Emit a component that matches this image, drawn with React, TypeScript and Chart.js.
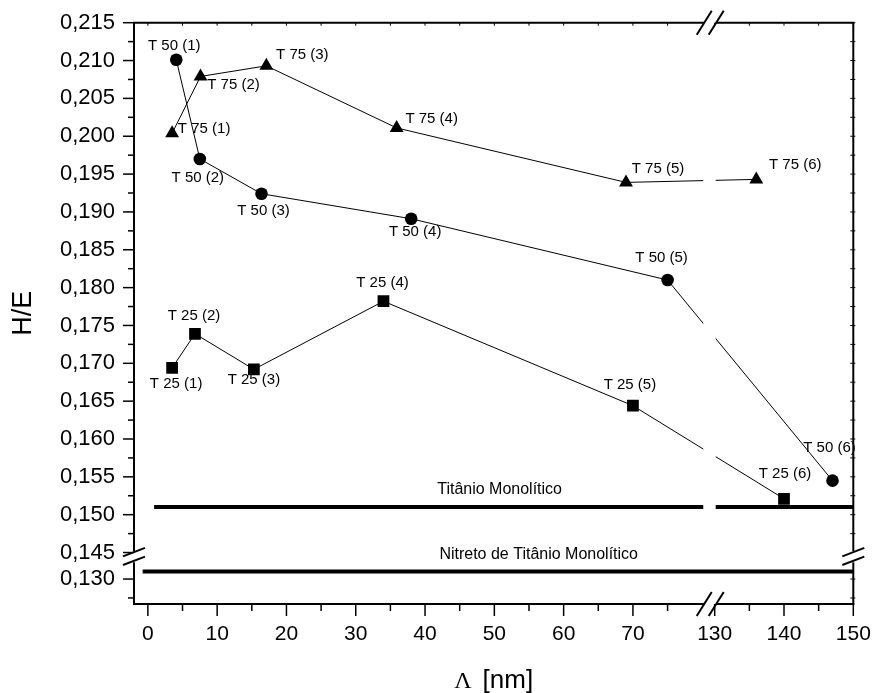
import React, { useEffect, useRef } from 'react';
import { Chart, registerables, LinearScale } from 'chart.js';

Chart.register(...registerables);

// ---------- data ----------
const SERIES_NAMES = ['T 25', 'T 50', 'T 75'];
const T25_X = [3.5, 6.8, 15.3, 34, 70, 140];
const T25_Y = [0.1694, 0.1739, 0.1692, 0.1782, 0.1644, 0.1521];
const T50_X = [4.1, 7.5, 16.4, 38, 75, 147];
const T50_Y = [0.2101, 0.197, 0.1924, 0.1891, 0.181, 0.1545];
const T75_X = [3.5, 7.6, 17.1, 35.9, 69, 136];
const T75_Y = [0.2004, 0.2079, 0.2093, 0.2011, 0.1939, 0.1943];

const TI_LABEL = 'Titânio Monolítico';
const TI_X = [0.9, 150];
const TI_Y = [0.151, 0.151];
const TIN_LABEL = 'Nitreto de Titânio Monolítico';
const TIN_X = [-0.75, 150];
const TIN_Y = [0.131, 0.131];

const X_MIN = -2;
const X_MAX = 150;
const X_BREAK = [80, 130];
const X_TICKS = [0, 10, 20, 30, 40, 50, 60, 70, 130, 140, 150];
const X_MINOR = [5, 15, 25, 35, 45, 55, 65, 75, 135, 145];

const Y_MIN = 0.1267;
const Y_MAX = 0.215;
const Y_BREAK = [0.133, 0.1445];
const Y_TICKS = [0.13, 0.145, 0.15, 0.155, 0.16, 0.165, 0.17, 0.175, 0.18, 0.185, 0.19, 0.195, 0.2, 0.205, 0.21, 0.215];
const Y_MINOR = [0.1275, 0.1475, 0.1525, 0.1575, 0.1625, 0.1675, 0.1725, 0.1775, 0.1825, 0.1875, 0.1925, 0.1975, 0.2025, 0.2075, 0.2125];

const X_TITLE_SYMBOL = 'Λ';
const X_TITLE_UNIT = '[nm]';
const Y_TITLE = 'H/E';

// ---------- styles / label placement ----------
const SANS = '"Liberation Sans", Arial, sans-serif';
const SERIF = '"Liberation Serif", "Times New Roman", serif';
const LABEL_OFFSETS = [
  [[4, 17], [-1, -17], [0, 11], [-1, -17], [-3, -20], [1, -24]],
  [[-2, -13], [-2, 20], [2, 18], [4, 14], [-6, -21], [-3, -32]],
  [[32, -3], [33, 9.5], [36, -10], [35, -8], [32, -13], [39, -13.5]],
];

class BrokenScale extends LinearScale {
  static id = 'broken';
  comp(v: number) {
    const o: any = this.options;
    const a = o.breakFrom, b = o.breakTo, g = o.breakGap || 0;
    if (a == null || b == null) return v;
    if (v <= a) return v;
    if (v >= b) return v - (b - a) + g;
    return a + ((v - a) / (b - a)) * g;
  }
  decomp(c: number) {
    const o: any = this.options;
    const a = o.breakFrom, b = o.breakTo, g = o.breakGap || 0;
    if (a == null || b == null) return c;
    if (c <= a) return c;
    if (c >= a + g) return c + (b - a) - g;
    return g > 0 ? a + ((c - a) / g) * (b - a) : a;
  }
  getPixelForValue(v: number) {
    if (v == null || isNaN(v)) return NaN;
    const c0 = this.comp(this.min), c1 = this.comp(this.max);
    return this.getPixelForDecimal((this.comp(v) - c0) / (c1 - c0));
  }
  getValueForPixel(p: number) {
    const c0 = this.comp(this.min), c1 = this.comp(this.max);
    return this.decomp(c0 + this.getDecimalForPixel(p) * (c1 - c0));
  }
}
Chart.register(BrokenScale as any);

const pts = (xs: number[], ys: number[]) => xs.map((x, i) => ({ x, y: ys[i] }));

const customPlugin = {
  id: 'customDecor',
  beforeDatasetDraw(chart: any, args: any) {
    if (args.index !== 0) return;
    const { ctx, chartArea: ca, scales } = chart;
    const x1 = scales.x.getPixelForValue(X_BREAK[0]);
    const x2 = scales.x.getPixelForValue(X_BREAK[1]);
    ctx.save();
    ctx.fillStyle = '#ffffff';
    ctx.fillRect(x1 + 1, ca.top + 2, x2 - x1, ca.bottom - ca.top - 4);
    ctx.restore();
  },
  afterDatasetsDraw(chart: any) {
    const { ctx, scales } = chart;
    ctx.save();
    ctx.fillStyle = '#000';
    ctx.textAlign = 'center';
    ctx.textBaseline = 'middle';
    ctx.font = `15px ${SANS}`;
    for (let s = 0; s < 3; s++) {
      const meta = chart.getDatasetMeta(s + 2);
      meta.data.forEach((el: any, j: number) => {
        const [dx, dy] = LABEL_OFFSETS[s][j];
        ctx.fillText(`${SERIES_NAMES[s]} (${j + 1})`, el.x + dx, el.y + dy - 1);
      });
    }
    ctx.font = `16px ${SANS}`;
    const tiY = scales.y.getPixelForValue(TI_Y[0]);
    ctx.fillText(TI_LABEL, scales.x.getPixelForValue(50.76), tiY - 18);
    const tinY = scales.y.getPixelForValue(TIN_Y[0]);
    ctx.fillText(TIN_LABEL, scales.x.getPixelForValue(56.4), tinY - 16.7);
    ctx.restore();
  },
  afterDraw(chart: any) {
    const { ctx, chartArea: ca, scales } = chart;
    const xs = scales.x, ys = scales.y;
    const L = ca.left, R = ca.right, T = ca.top, B = ca.bottom;
    const xg1 = xs.getPixelForValue(X_BREAK[0]) + 2;
    const xg2 = xs.getPixelForValue(X_BREAK[1]) + 1.5;
    const yb = ys.getPixelForValue(Y_BREAK[0]);
    const yg1 = yb - 5, yg2 = yb + 6;
    ctx.save();
    ctx.strokeStyle = '#000';
    ctx.lineCap = 'butt';
    const line = (a: number, b: number, c: number, d: number, w: number) => {
      ctx.lineWidth = w;
      ctx.beginPath();
      ctx.moveTo(a, b);
      ctx.lineTo(c, d);
      ctx.stroke();
    };
    // frame
    for (const yy of [T, B]) {
      line(L - 1, yy, xg1, yy, 2);
      line(xg2, yy, R + 1, yy, 2);
    }
    for (const xx of [L, R]) {
      line(xx, T, xx, yg1, 2);
      line(xx, yg2, xx, B + 1, 2);
    }
    // left ticks
    for (const v of Y_TICKS) { const p = ys.getPixelForValue(v); line(L - 11, p, L, p, 1.5); }
    for (const v of Y_MINOR) { const p = ys.getPixelForValue(v); line(L - 6, p, L, p, 1.5); }
    // bottom ticks
    for (const v of X_TICKS) { const p = xs.getPixelForValue(v); line(p, B, p, B + 12, 1.5); }
    for (const v of X_MINOR) { const p = xs.getPixelForValue(v); line(p, B, p, B + 7, 1.5); }
    // top small ticks
    for (const v of [...X_TICKS, ...X_MINOR]) { const p = xs.getPixelForValue(v); line(p, T, p, T + 3, 1); }
    // right small ticks
    for (const v of [...Y_TICKS, ...Y_MINOR]) { const p = ys.getPixelForValue(v); if (p > yg1 && p < yg2) continue; line(R - 3, p, R + 2, p, 1); }
    // x-break slashes
    for (const yy of [T, B]) {
      for (const cx of [xg1, xg2]) line(cx - 7.5, yy + 12, cx + 7.5, yy - 12, 2);
    }
    // y-break slashes
    for (const xx of [L, R]) {
      line(xx - 11, yb, xx + 11, yb - 8.4, 2);
      line(xx - 11, yb + 8.7, xx + 11, yb + 0.3, 2);
    }
    // x title (mixed fonts)
    ctx.fillStyle = '#000';
    ctx.textBaseline = 'alphabetic';
    ctx.textAlign = 'left';
    ctx.font = `24px ${SERIF}`;
    const w1 = ctx.measureText(X_TITLE_SYMBOL).width;
    ctx.font = `26px ${SANS}`;
    const w2 = ctx.measureText(X_TITLE_UNIT).width;
    const gap = 11;
    const total = w1 + gap + w2;
    const cx = (L + R) / 2;
    const sx = cx - total / 2;
    ctx.font = `24px ${SERIF}`;
    ctx.fillText(X_TITLE_SYMBOL, sx, 688);
    ctx.font = `26px ${SANS}`;
    ctx.fillText(X_TITLE_UNIT, sx + w1 + gap, 688);
    ctx.restore();
  },
};

export default function App() {
  const ref = useRef<HTMLCanvasElement | null>(null);
  useEffect(() => {
    if (!ref.current) return;
    const lineDs = (label: string, data: any[], style: string) => ({
      label,
      data,
      borderColor: '#000',
      backgroundColor: '#000',
      borderWidth: 1,
      pointStyle: style,
      pointRadius: style === 'circle' ? 6.3 : style === 'triangle' ? 8 : 8.3,
      pointBorderWidth: 0,
      pointBackgroundColor: '#000',
      tension: 0,
    });
    const chart = new Chart(ref.current, {
      type: 'line',
      data: {
        datasets: [
          { label: TIN_LABEL, data: pts(TIN_X, TIN_Y), borderColor: '#000', borderWidth: 4, pointRadius: 0, borderCapStyle: 'butt' } as any,
          { label: TI_LABEL, data: pts(TI_X, TI_Y), borderColor: '#000', borderWidth: 4, pointRadius: 0, borderCapStyle: 'butt' } as any,
          lineDs(SERIES_NAMES[0], pts(T25_X, T25_Y), 'rect'),
          lineDs(SERIES_NAMES[1], pts(T50_X, T50_Y), 'circle'),
          lineDs(SERIES_NAMES[2], pts(T75_X, T75_Y), 'triangle'),
        ],
      },
      options: {
        animation: false,
        responsive: false,
        devicePixelRatio: 1,
        layout: { padding: { left: 0, top: 22.7, right: 20.7, bottom: 0 } },
        plugins: { legend: { display: false }, tooltip: { enabled: false } },
        scales: {
          x: {
            type: 'broken',
            position: 'bottom',
            min: X_MIN,
            max: X_MAX,
            breakFrom: X_BREAK[0],
            breakTo: X_BREAK[1],
            breakGap: 1.8,
            bounds: 'data',
            grid: { display: false, drawTicks: false },
            border: { display: false },
            afterBuildTicks: (s: any) => { s.ticks = X_TICKS.map((v) => ({ value: v })); },
            afterFit: (s: any) => { s.height = 89; s.paddingLeft = 0; s.paddingRight = 0; },
            ticks: {
              autoSkip: false, maxRotation: 0, minRotation: 0, padding: 18, color: '#000',
              font: { size: 21, family: SANS },
              callback: (v: any) => String(v),
            },
            title: { display: false },
          },
          y: {
            type: 'broken',
            position: 'left',
            min: Y_MIN,
            max: Y_MAX,
            breakFrom: Y_BREAK[0],
            breakTo: Y_BREAK[1],
            breakGap: 0,
            bounds: 'data',
            grid: { display: false, drawTicks: false },
            border: { display: false },
            afterBuildTicks: (s: any) => { s.ticks = Y_TICKS.map((v) => ({ value: v })); },
            afterFit: (s: any) => { s.width = 134; s.paddingTop = 0; s.paddingBottom = 0; },
            ticks: {
              autoSkip: false, padding: 19, color: '#000',
              font: { size: 22, family: SANS },
              callback: (v: any) => Number(v).toFixed(3).replace('.', ','),
            },
            title: { display: true, text: Y_TITLE, color: '#000', font: { size: 27, family: SANS }, padding: { top: 7, bottom: 0 } },
          },
        } as any,
      } as any,
      plugins: [customPlugin],
    });
    return () => chart.destroy();
  }, []);
  return (
    <div style={{ position: 'absolute', left: 0, top: 0, width: 874, height: 693, background: '#fff' }}>
      <canvas ref={ref} width={874} height={693} style={{ display: 'block', width: 874, height: 693 }} />
    </div>
  );
}
